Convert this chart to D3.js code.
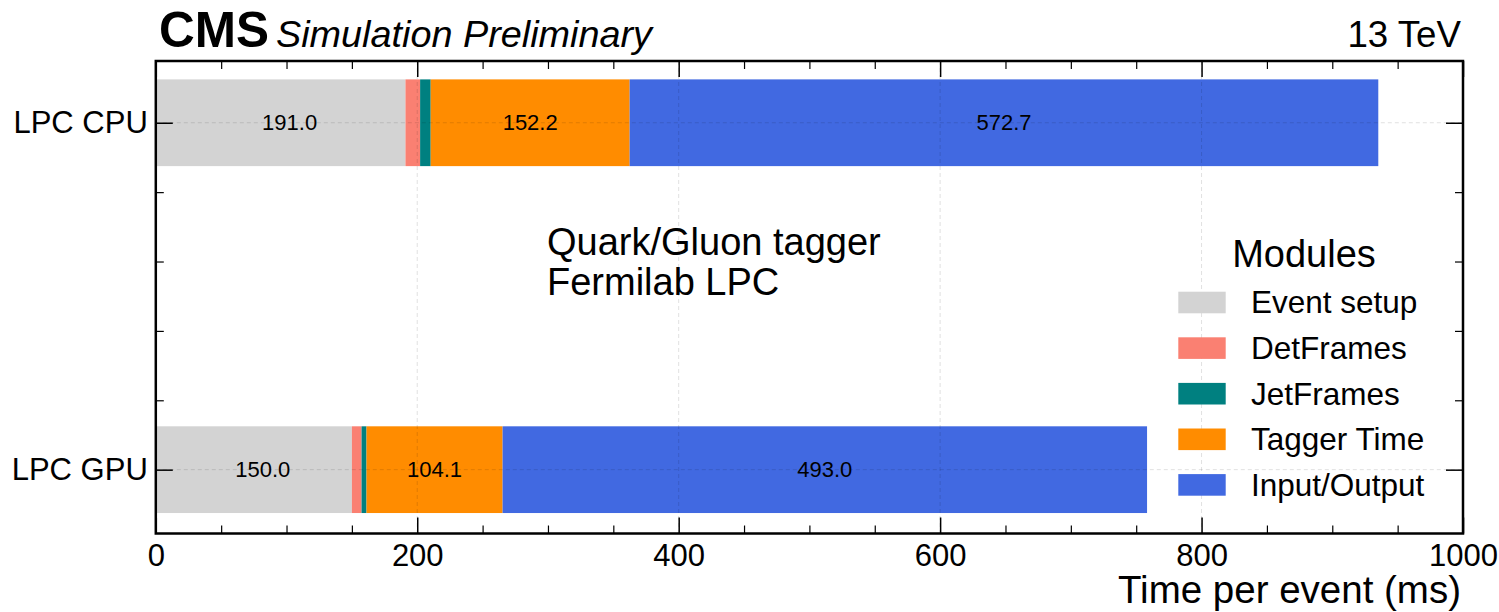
<!DOCTYPE html>
<html>
<head>
<meta charset="utf-8">
<script src="https://cdn.jsdelivr.net/npm/d3@7"></script>
<style>
  html, body { margin: 0; padding: 0; background: #fff; }
  svg { display: block; font-family: "Liberation Sans", Arial, Helvetica, sans-serif; }
</style>
</head>
<body>
<svg id="chart" width="1499" height="612"></svg>
<script>
// ---- data ----
const categories = ["LPC CPU", "LPC GPU"];
const modules = ["Event setup", "DetFrames", "JetFrames", "Tagger Time", "Input/Output"];
const eventSetup = [191.0, 150.0];
const detFrames = [11.2, 7.4];
const jetFrames = [8.1, 3.8];
const taggerTime = [152.2, 104.1];
const inputOutput = [572.7, 493.0];
const moduleColors = ["#d3d3d3", "#fa8072", "#008080", "#ff8c00", "#4169e1"];
const labelledModules = ["Event setup", "Tagger Time", "Input/Output"];
const xTicks = [0, 200, 400, 600, 800, 1000];
const xMinorTicks = d3.range(0, 1001, 50);
const yMinorTicks = [0.2, 0.4, 0.6, 0.8];

const series = [eventSetup, detFrames, jetFrames, taggerTime, inputOutput];

// ---- layout ----
const svg = d3.select("#chart");
const L = 155.8, R = 1463, T = 61, B = 533.5;
const barHeight = 0.25;

const x = d3.scaleLinear().domain([0, 1000]).range([L, R]);
const y = d3.scaleLinear().domain([-0.178, 1.184]).range([T, B]);
const color = d3.scaleOrdinal().domain(modules).range(moduleColors);

svg.append("rect").attr("width", 1499).attr("height", 612).attr("fill", "#fff");

// stacked segments
const segs = [];
categories.forEach((c, ci) => {
  let acc = 0;
  modules.forEach((m, mi) => {
    const v = series[mi][ci];
    segs.push({cat: ci, mod: m, x0: acc, x1: acc + v, v});
    acc += v;
  });
});

svg.append("g").selectAll("rect").data(segs).join("rect")
  .attr("x", d => x(d.x0))
  .attr("width", d => x(d.x1) - x(d.x0))
  .attr("y", d => y(d.cat - barHeight / 2))
  .attr("height", d => y(d.cat + barHeight / 2) - y(d.cat - barHeight / 2))
  .attr("fill", d => color(d.mod));

// grid (dashed, faint, on top)
const grid = svg.append("g").attr("stroke", "#000").attr("stroke-opacity", 0.12)
  .attr("stroke-width", 1).attr("stroke-dasharray", "4,3");
grid.selectAll("line.v").data(xTicks.slice(1, -1)).join("line")
  .attr("x1", d => x(d)).attr("x2", d => x(d)).attr("y1", T).attr("y2", B);
grid.selectAll("line.h").data(categories.map((c, i) => i)).join("line")
  .attr("x1", L).attr("x2", R).attr("y1", d => y(d)).attr("y2", d => y(d));

// bar value labels
svg.append("g").selectAll("text").data(segs.filter(d => labelledModules.includes(d.mod))).join("text")
  .attr("x", d => (x(d.x0) + x(d.x1)) / 2)
  .attr("dx", d => d.mod === "Event setup" ? 9 : 0)
  .attr("y", d => y(d.cat))
  .attr("dy", "0.35em")
  .attr("text-anchor", "middle")
  .attr("font-size", 22)
  .attr("fill", "#000")
  .text(d => d.v.toFixed(1));

// axes with inward ticks
const axB = d3.axisBottom(x).tickValues(xTicks).tickSize(-16).tickPadding(10).tickFormat(d3.format("d"));
const gB = svg.append("g").attr("transform", `translate(0,${B})`).call(axB);
gB.select(".domain").remove();
gB.selectAll("line").attr("stroke", "#000").attr("stroke-width", 1.5);
gB.selectAll("text").attr("font-size", 31).attr("fill", "#000")
  .attr("font-family", "Liberation Sans, Arial, sans-serif");

const axBm = d3.axisBottom(x).tickValues(xMinorTicks.filter(v => !xTicks.includes(v))).tickSize(-8).tickFormat("");
const gBm = svg.append("g").attr("transform", `translate(0,${B})`).call(axBm);
gBm.select(".domain").remove();
gBm.selectAll("line").attr("stroke", "#000").attr("stroke-width", 1.2);

const axT = d3.axisTop(x).tickValues(xTicks).tickSize(-16).tickFormat("");
const gT = svg.append("g").attr("transform", `translate(0,${T})`).call(axT);
gT.select(".domain").remove();
gT.selectAll("line").attr("stroke", "#000").attr("stroke-width", 1.5);
const axTm = d3.axisTop(x).tickValues(xMinorTicks.filter(v => !xTicks.includes(v))).tickSize(-8).tickFormat("");
const gTm = svg.append("g").attr("transform", `translate(0,${T})`).call(axTm);
gTm.select(".domain").remove();
gTm.selectAll("line").attr("stroke", "#000").attr("stroke-width", 1.2);

const axL = d3.axisLeft(y).tickValues([0, 1]).tickSize(-17).tickPadding(8).tickFormat(i => categories[i]);
const gL = svg.append("g").attr("transform", `translate(${L},0)`).call(axL);
gL.select(".domain").remove();
gL.selectAll("line").attr("stroke", "#000").attr("stroke-width", 1.5);
gL.selectAll("text").attr("font-size", 31).attr("fill", "#000")
  .attr("x", -8).attr("font-family", "Liberation Sans, Arial, sans-serif");
const axLm = d3.axisLeft(y).tickValues(yMinorTicks).tickSize(-8).tickFormat("");
const gLm = svg.append("g").attr("transform", `translate(${L},0)`).call(axLm);
gLm.select(".domain").remove();
gLm.selectAll("line").attr("stroke", "#000").attr("stroke-width", 1.2);

const axR = d3.axisRight(y).tickValues([0, 1]).tickSize(-17).tickFormat("");
const gR = svg.append("g").attr("transform", `translate(${R},0)`).call(axR);
gR.select(".domain").remove();
gR.selectAll("line").attr("stroke", "#000").attr("stroke-width", 1.5);
const axRm = d3.axisRight(y).tickValues(yMinorTicks).tickSize(-8).tickFormat("");
const gRm = svg.append("g").attr("transform", `translate(${R},0)`).call(axRm);
gRm.select(".domain").remove();
gRm.selectAll("line").attr("stroke", "#000").attr("stroke-width", 1.2);

// frame
svg.append("rect").attr("x", L).attr("y", T).attr("width", R - L).attr("height", B - T)
  .attr("fill", "none").attr("stroke", "#000").attr("stroke-width", 2.5);

// axis label
svg.append("text").attr("x", R - 2).attr("y", 603).attr("text-anchor", "end")
  .attr("font-size", 38.5).attr("fill", "#000").text("Time per event (ms)");

// header
svg.append("text").attr("x", 159).attr("y", 47).attr("font-size", 49.5).attr("font-weight", "bold")
  .attr("fill", "#000").text("CMS");
svg.append("text").attr("x", 276).attr("y", 47).attr("font-size", 37.8).attr("font-style", "italic")
  .attr("fill", "#000").text("Simulation Preliminary");
svg.append("text").attr("x", R - 2).attr("y", 47).attr("text-anchor", "end").attr("font-size", 36.7)
  .attr("fill", "#000").text("13 TeV");

// annotation
svg.append("text").attr("x", 547).attr("y", 255).attr("font-size", 38).attr("fill", "#000").text("Quark/Gluon tagger");
svg.append("text").attr("x", 547).attr("y", 295).attr("font-size", 38).attr("fill", "#000").text("Fermilab LPC");

// legend
const lg = svg.append("g");
lg.append("text").attr("x", 1304).attr("y", 267).attr("text-anchor", "middle")
  .attr("font-size", 38).attr("fill", "#000").text("Modules");
const rows = lg.selectAll("g.row").data(modules).join("g")
  .attr("transform", (d, i) => `translate(0,${302.5 + i * 45.6})`);
rows.append("rect").attr("x", 1178.3).attr("y", -10.8).attr("width", 47.4).attr("height", 21.6)
  .attr("fill", d => color(d));
rows.append("text").attr("x", 1251).attr("y", 10.8).attr("font-size", 31.5).attr("fill", "#000").text(d => d);
</script>
</body>
</html>
